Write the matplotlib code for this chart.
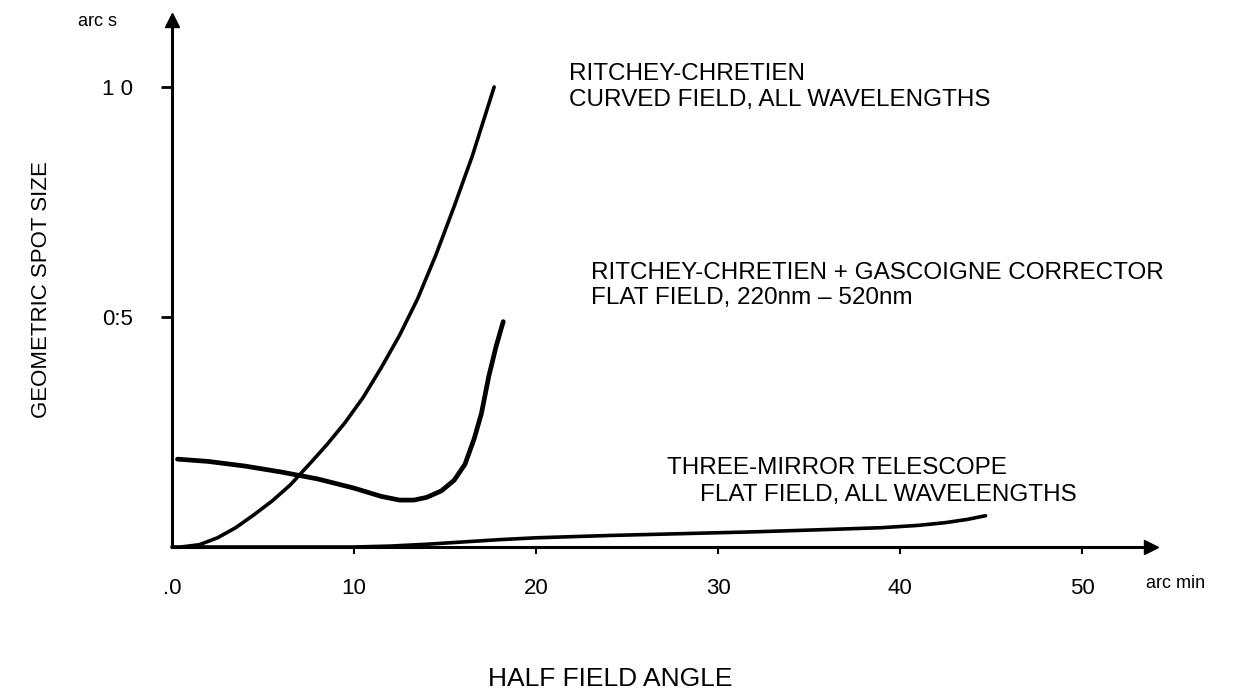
import matplotlib
matplotlib.use("Agg")
import matplotlib.pyplot as plt

plt.rcParams['font.family'] = ['Liberation Sans', 'DejaVu Sans']

# ---- data ----
rc_x = [0.5, 1.5, 2.5, 3.5, 4.5, 5.5, 6.5, 7.5, 8.5, 9.5, 10.5, 11.5, 12.5,
        13.5, 14.5, 15.5, 16.5, 17.7]
rc_y = [0.0, 0.005, 0.02, 0.042, 0.07, 0.1, 0.135, 0.178, 0.222, 0.27, 0.325,
        0.39, 0.46, 0.54, 0.635, 0.74, 0.85, 1.0]

gc_x = [0.3, 2, 4, 6, 8, 10, 11.5, 12.5, 13.3, 14.0, 14.8, 15.5, 16.1, 16.6,
        17.0, 17.4, 17.8, 18.2]
gc_y = [0.191, 0.186, 0.176, 0.163, 0.148, 0.128, 0.11, 0.102, 0.102, 0.108,
        0.122, 0.145, 0.18, 0.235, 0.29, 0.37, 0.435, 0.49]

tm_x = [0.0, 10, 12, 14, 16, 18, 20, 24, 28, 32, 36, 39, 41, 42.5, 43.7, 44.7]
tm_y = [0.0, 0.0, 0.002, 0.006, 0.011, 0.016, 0.020, 0.025, 0.029, 0.033,
        0.038, 0.042, 0.047, 0.053, 0.060, 0.068]

x_ticks = [0, 10, 20, 30, 40, 50]
x_tick_labels = ['.0', '10', '20', '30', '40', '50']
y_ticks = [0.5, 1.0]
y_tick_labels = ['0:5', '1 0']

# ---- figure ----
W, H = 1244, 690
fig = plt.figure(figsize=(W / 100, H / 100), dpi=100)
x0px, sx = 172, 18.2
y0px, sy = 547, 460
xlim = (-2, 58)
ylim = (-0.05, 1.15)
left = x0px + xlim[0] * sx
right = x0px + xlim[1] * sx
bottom = H - (y0px - ylim[0] * sy)
top = H - (y0px - ylim[1] * sy)
ax = fig.add_axes([left / W, bottom / H, (right - left) / W, (top - bottom) / H])
ax.set_xlim(*xlim)
ax.set_ylim(*ylim)

for s in ['top', 'right']:
    ax.spines[s].set_visible(False)
ax.spines['left'].set_position(('data', 0))
ax.spines['bottom'].set_position(('data', 0))
ax.spines['left'].set_bounds(0, 1.14)
ax.spines['bottom'].set_bounds(0, 53.5)
ax.spines['left'].set_linewidth(2.2)
ax.spines['bottom'].set_linewidth(2.2)
ax.plot(53.8, 0, '>', color='black', markersize=10, clip_on=False)
ax.plot(0, 1.146, '^', color='black', markersize=10, clip_on=False)

ax.set_xticks(x_ticks)
ax.set_xticklabels(x_tick_labels, fontsize=16)
ax.set_yticks(y_ticks)
ax.set_yticklabels(y_tick_labels, fontsize=16)
ax.tick_params(axis='x', direction='in', length=0, pad=22)
ax.tick_params(axis='y', direction='out', length=8, width=2, pad=20)
for t in x_ticks[1:]:
    ax.plot([t, t], [0, -0.014], color='black', lw=1.5, clip_on=False)

ax.plot(rc_x, rc_y, color='black', lw=2.6, solid_capstyle='round',
        solid_joinstyle='round', clip_on=False)
ax.plot(gc_x, gc_y, color='black', lw=3.4, solid_capstyle='round',
        solid_joinstyle='round', clip_on=False)
ax.plot(tm_x, tm_y, color='black', lw=2.6, solid_capstyle='round',
        solid_joinstyle='round', clip_on=False)

fs = 17.5
ax.text(21.8, 1.0, 'RITCHEY-CHRETIEN\nCURVED FIELD, ALL WAVELENGTHS',
        fontsize=fs, ha='left', va='center', linespacing=1.2)
ax.text(23.0, 0.568, 'RITCHEY-CHRETIEN + GASCOIGNE CORRECTOR\nFLAT FIELD, 220nm – 520nm',
        fontsize=fs, ha='left', va='center', linespacing=1.2)
ax.text(27.2, 0.171, 'THREE-MIRROR TELESCOPE', fontsize=fs, ha='left', va='center')
ax.text(29.0, 0.114, 'FLAT FIELD, ALL WAVELENGTHS', fontsize=fs, ha='left', va='center')

ax.text(53.5, -0.08, 'arc min', fontsize=13, ha='left', va='center', clip_on=False)
fig.text(97 / W, 1 - 22 / H, 'arc s', fontsize=13, ha='center', va='center')

fig.text(42 / W, 1 - 290 / H, 'GEOMETRIC SPOT SIZE', fontsize=16, rotation=90,
         ha='center', va='center')
fig.text(610 / W, 1 - 679 / H, 'HALF FIELD ANGLE', fontsize=19, ha='center', va='center')

fig.savefig('out.png', dpi=100)
